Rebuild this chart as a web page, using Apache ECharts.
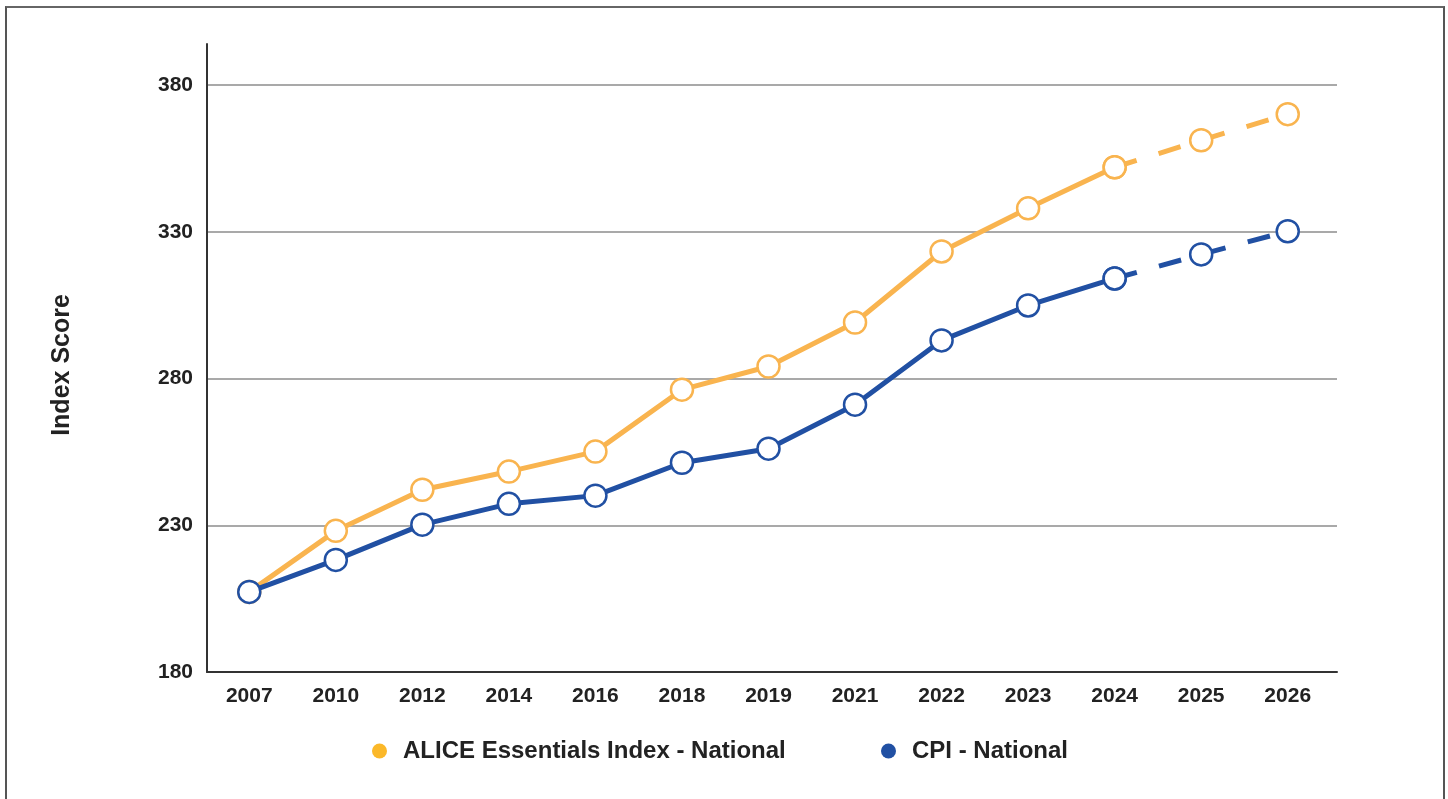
<!DOCTYPE html>
<html>
<head>
<meta charset="utf-8">
<script src="https://cdn.jsdelivr.net/npm/echarts@6/dist/echarts.min.js"></script>
<style>
html,body{margin:0;padding:0;background:#fff;}
#frame{position:absolute;left:5px;top:6px;width:1440px;height:800px;border-left:2px solid #555;border-top:2px solid #666;border-right:2px solid #555;box-sizing:border-box;}
#chart{position:absolute;left:0;top:0;width:1448px;height:799px;}
</style>
</head>
<body>
<div id="frame"></div>
<div id="chart"></div>
<script>
const years = ['2007','2010','2012','2014','2016','2018','2019','2021','2022','2023','2024','2025','2026'];
const aliceValues = [207.3, 228.1, 242.1, 248.3, 255.1, 276.2, 284.1, 299.1, 323.3, 338.0, 352.0, 361.2, 370.1];
const cpiValues   = [207.3, 218.2, 230.2, 237.3, 240.1, 251.3, 256.1, 271.1, 293.0, 304.9, 314.1, 322.3, 330.2];
const yTicks = {min: 180, max: 394, interval: 50};
const yAxisTitle = 'Index Score';
const projectedFrom = 10; // index of 2024; later years are projections (dashed)

const ALICE_NAME = 'ALICE Essentials Index - National';
const CPI_NAME = 'CPI - National';
const ORANGE = '#F9B44F';
const ORANGE_LEG = '#FBB829';
const BLUE = '#2150A3';
const FONT = 'Liberation Sans, Arial, sans-serif';

function solidPart(arr){ return arr.map((v,i)=> i<=projectedFrom ? v : null); }
function dashPart(arr){ return arr.map((v,i)=> i>=projectedFrom ? v : null); }

function mkSeries(name, data, color, dashed, z){
  return {
    name: name, type: 'line', data: data, z: z,
    xAxisIndex: 1, yAxisIndex: 1,
    symbol: 'circle', symbolSize: 22, connectNulls: false,
    lineStyle: {color: color, width: 5, type: dashed ? [23, 23] : 'solid'},
    itemStyle: {color: '#fff', borderColor: color, borderWidth: 2.5},
    emphasis: {disabled: true},
    animation: false
  };
}

const labelStyle = {fontFamily: FONT, fontWeight: 'bold', fontSize: 21, color: '#222'};
const legendText = {fontFamily: FONT, fontWeight: 'bold', fontSize: 24, color: '#222'};

const chart = echarts.init(document.getElementById('chart'), null, {renderer:'canvas'});
chart.setOption({
  backgroundColor: 'transparent',
  animation: false,
  grid: [
    {left: 207, right: 111, top: 44, bottom: 127},
    {left: 206, right: 117, top: 44, bottom: 127}
  ],
  graphic: [{
    type: 'text', x: 62, y: 365, rotation: Math.PI / 2,
    style: {text: yAxisTitle, fontFamily: FONT, fontWeight: 'bold', fontSize: 25, fill: '#222',
            align: 'center', verticalAlign: 'middle'}
  }],
  legend: [
    {left: 372, top: 739, padding: 0, itemWidth: 37, itemHeight: 15,
     textStyle: legendText, selectedMode: false,
     data: [{name: ALICE_NAME, icon: 'circle', itemStyle: {color: ORANGE_LEG, borderWidth: 0}}]},
    {left: 881, top: 739, padding: 0, itemWidth: 37, itemHeight: 15,
     textStyle: legendText, selectedMode: false,
     data: [{name: CPI_NAME, icon: 'circle', itemStyle: {color: BLUE, borderWidth: 0}}]}
  ],
  xAxis: [
    {gridIndex: 0, type: 'category', data: years, boundaryGap: true,
     axisLine: {lineStyle: {color: '#333', width: 2}},
     axisTick: {show: false}, axisLabel: {show: false}, splitLine: {show: false}},
    {gridIndex: 1, type: 'category', data: years, boundaryGap: true,
     axisLine: {show: false}, axisTick: {show: false}, splitLine: {show: false},
     axisLabel: Object.assign({margin: 14}, labelStyle)}
  ],
  yAxis: [
    {gridIndex: 0, type: 'value', min: yTicks.min, max: yTicks.max, interval: yTicks.interval,
     axisLine: {show: true, lineStyle: {color: '#333', width: 2}},
     axisTick: {show: false},
     axisLabel: Object.assign({margin: 14, showMaxLabel: false}, labelStyle),
     splitLine: {show: true, lineStyle: {color: ['#8c8c8c','#8c8c8c','#8c8c8c','#8c8c8c','#8c8c8c','rgba(0,0,0,0)'], width: 1.5}}},
    {gridIndex: 1, type: 'value', min: yTicks.min, max: yTicks.max, interval: yTicks.interval,
     axisLine: {show: false}, axisTick: {show: false}, axisLabel: {show: false}, splitLine: {show: false}}
  ],
  series: [
    mkSeries(ALICE_NAME, solidPart(aliceValues), ORANGE, false, 2),
    mkSeries(ALICE_NAME, dashPart(aliceValues), ORANGE, true, 2),
    mkSeries(CPI_NAME, solidPart(cpiValues), BLUE, false, 3),
    mkSeries(CPI_NAME, dashPart(cpiValues), BLUE, true, 3)
  ]
});
</script>
</body>
</html>
